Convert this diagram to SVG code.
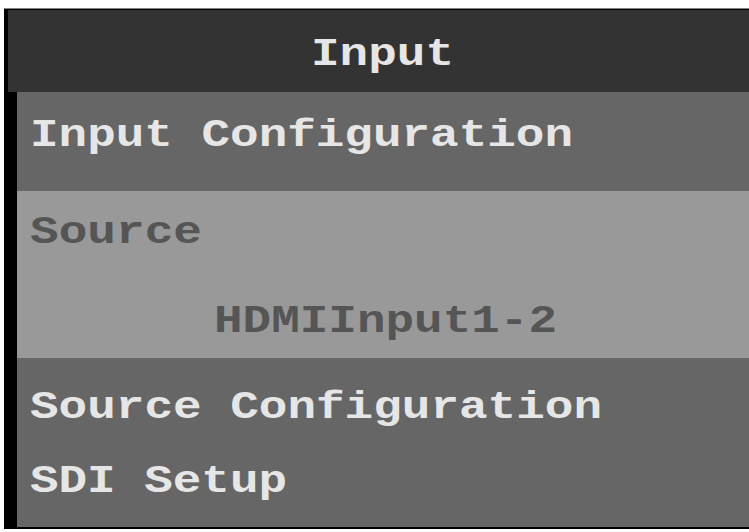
<svg xmlns="http://www.w3.org/2000/svg" width="749" height="532" viewBox="0 0 749 532">
<style>
.t{font-family:"Liberation Mono","Courier New",monospace;font-weight:bold;font-size:38px;}
.lt{fill:#e6e6e6;}
.dk{fill:#555555;}
</style>
<rect x="0" y="0" width="749" height="532" fill="#ffffff"/>
<rect x="4" y="8" width="745" height="521" fill="#000000"/>
<line x1="4" y1="8.5" x2="749" y2="8.5" stroke="#888888" stroke-width="1"/>
<g id="header">
<rect x="8" y="10" width="741" height="82" fill="#333333"/>
<text class="t lt" x="311" y="65" textLength="143" lengthAdjust="spacingAndGlyphs">Input</text>
</g>
<g id="input-configuration">
<rect x="17" y="92" width="732" height="99" fill="#666666"/>
<text class="t lt" x="30" y="146" textLength="543" lengthAdjust="spacingAndGlyphs">Input Configuration</text>
</g>
<g id="source">
<rect x="17" y="191" width="732" height="167" fill="#999999"/>
<text class="t dk" x="30" y="243" textLength="172" lengthAdjust="spacingAndGlyphs">Source</text>
<text class="t dk" x="214" y="332" textLength="343" lengthAdjust="spacingAndGlyphs">HDMIInput1-2</text>
</g>
<g id="source-configuration">
<rect x="17" y="358" width="732" height="169" fill="#666666"/>
<text class="t lt" x="30" y="418" textLength="572" lengthAdjust="spacingAndGlyphs">Source Configuration</text>
<text class="t lt" x="30" y="492" textLength="257" lengthAdjust="spacingAndGlyphs">SDI Setup</text>
</g>
<g id="connectors"></g>
</svg>
